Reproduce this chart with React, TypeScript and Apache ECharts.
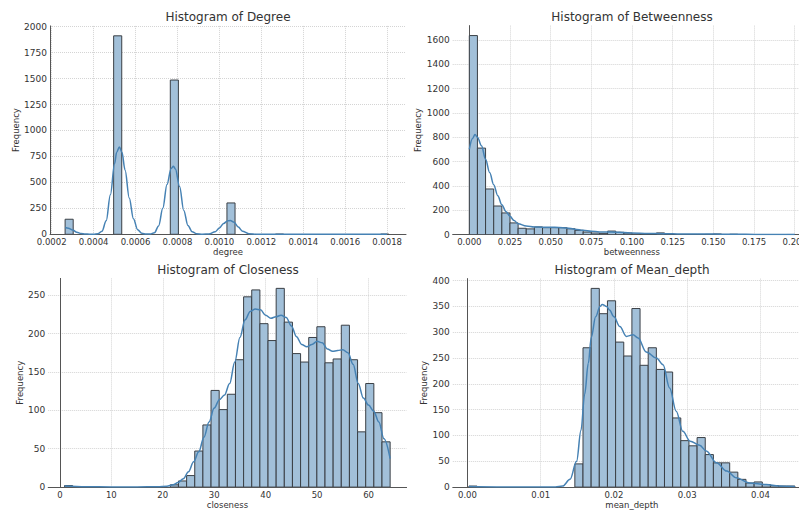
import React, { useEffect, useRef } from 'react';
import * as echarts from 'echarts';

const FONT = 'DejaVu Sans';

// ---------- Degree ----------
const degreeBinStart = 0.000264;
const degreeBinWidth = 0.0000386;
const degreeCounts = [
  145, 0, 0, 0, 0, 0, 1912, 0, 0, 0,
  0, 0, 0, 1486, 0, 0, 0, 0, 0, 0,
  302, 0, 0, 0, 0, 0, 1, 0, 0, 0,
  0, 0, 0, 0, 0, 0, 0, 0, 0, 1,
];
const degreeKdeX = [
  0.000264, 0.00028, 0.0003, 0.00032, 0.00034, 0.00036, 0.00038, 0.0004, 0.00042, 0.00044,
  0.00046, 0.00048, 0.0005, 0.00051, 0.000523, 0.000535, 0.00055, 0.00057, 0.00059, 0.00061,
  0.00063, 0.00065, 0.00067, 0.00069, 0.00071, 0.00073, 0.00075, 0.00077, 0.000781, 0.00079,
  0.00081, 0.00083, 0.00085, 0.00087, 0.00089, 0.00092, 0.00095, 0.00098, 0.001, 0.00102,
  0.00104, 0.001052, 0.00107, 0.00109, 0.00111, 0.00114, 0.00118, 0.0013, 0.0015, 0.0018,
];
const degreeKdeY = [
  65, 58, 42, 20, 8, 3, 1, 1, 5, 30,
  130, 380, 680, 790, 842, 790, 620, 350, 150, 45,
  10, 2, 3, 15, 80, 250, 480, 635, 655, 630,
  460, 230, 85, 25, 6, 1, 3, 25, 60, 105,
  130, 133, 115, 70, 30, 6, 1, 1, 0.5, 0.3,
];
const degreeXTicks = [0.0002, 0.0004, 0.0006, 0.0008, 0.001, 0.0012, 0.0014, 0.0016, 0.0018];
const degreeYTicks = [0, 250, 500, 750, 1000, 1250, 1500, 1750, 2000];

// ---------- Betweenness ----------
const betweennessBinStart = 0;
const betweennessBinWidth = 0.005;
const betweennessCounts = [
  1636, 711, 375, 235, 178, 96, 52, 47, 63, 57,
  57, 57, 48, 35, 21, 13, 10, 29, 19, 13,
  5, 3, 2, 14, 2, 1, 1, 1, 1, 2,
  5, 1, 3, 1, 1, 0, 0, 0, 0, 1,
];
const betweennessKdeX = [
  0, 0.002, 0.0035, 0.005, 0.0075, 0.01, 0.0125, 0.015, 0.0175, 0.02,
  0.0225, 0.025, 0.0275, 0.03, 0.035, 0.04, 0.045, 0.05, 0.055, 0.06,
  0.065, 0.07, 0.075, 0.08, 0.085, 0.09, 0.095, 0.1, 0.11, 0.12,
  0.13, 0.14, 0.15, 0.16, 0.17, 0.18, 0.2,
];
const betweennessKdeY = [
  700, 790, 823, 800, 730, 620, 510, 410, 320, 245,
  190, 150, 115, 90, 70, 62, 61, 61, 59, 54,
  45, 35, 27, 22, 21, 20, 17, 13, 9, 8,
  5, 4, 4, 3, 2, 1, 1,
];
const betweennessXTicks = [0, 0.025, 0.05, 0.075, 0.1, 0.125, 0.15, 0.175, 0.2];
const betweennessYTicks = [0, 200, 400, 600, 800, 1000, 1200, 1400, 1600];

// ---------- Closeness ----------
const closenessBinStart = 0.9;
const closenessBinWidth = 1.5825;
const closenessCounts = [
  2, 0, 0, 0, 0, 0, 0, 0, 0, 0,
  0, 0, 0, 3, 8, 15, 47, 81, 126, 101,
  121, 166, 248, 257, 213, 191, 259, 215, 174, 163,
  195, 209, 162, 167, 211, 166, 72, 135, 97, 59,
];
const closenessKdeX = [
  0.9, 5, 10, 15, 19, 20.8, 22, 23, 24, 25,
  26, 27, 28, 29, 30, 31, 32, 33, 34, 35,
  36, 37, 38, 39, 40, 41, 42, 43, 44, 45,
  46, 47, 48, 49, 50, 51, 52, 53, 54, 55,
  56, 57, 58, 59, 60, 61, 62, 63, 64.2,
];
const closenessKdeY = [
  1.5, 0.5, 0.2, 0.2, 0.5, 1, 3, 6, 11, 20,
  33, 46, 65, 85, 103, 114, 120, 135, 163, 195,
  218, 229, 232, 231, 224, 220, 222, 224, 221, 210,
  196, 186, 183, 186, 190, 188, 180, 177, 178, 179,
  175, 160, 135, 116, 107, 99, 85, 63, 37,
];
const closenessXTicks = [0, 10, 20, 30, 40, 50, 60];
const closenessYTicks = [0, 50, 100, 150, 200, 250];

// ---------- Mean_depth ----------
const meanDepthBinStart = 0.0002;
const meanDepthBinWidth = 0.0011125;
const meanDepthCounts = [
  2, 0, 0, 0, 0, 0, 0, 0, 0, 0,
  0, 0, 0, 45, 270, 385, 336, 361, 281, 254,
  346, 236, 270, 228, 223, 134, 90, 80, 96, 63,
  47, 47, 29, 15, 8, 10, 5, 3, 2, 2,
];
const meanDepthKdeX = [
  0.0002, 0.004, 0.008, 0.012, 0.013, 0.014, 0.0149, 0.0155, 0.016, 0.0165,
  0.0169, 0.0175, 0.0181, 0.0184, 0.019, 0.0194, 0.02, 0.0208, 0.0217, 0.0226,
  0.0233, 0.0244, 0.0258, 0.0267, 0.0276, 0.0285, 0.0294, 0.0304, 0.0317, 0.0326,
  0.034, 0.0354, 0.0367, 0.0385, 0.0408, 0.0425, 0.0447,
];
const meanDepthKdeY = [
  1, 0.3, 0.1, 0.3, 2, 15, 50, 110, 180, 240,
  290, 330, 350, 354, 350, 343, 330, 311, 292, 295,
  289, 262, 250, 237, 192, 147, 108, 89, 81, 70,
  47, 31, 18, 8, 5, 2, 1,
];
const meanDepthXTicks = [0, 0.01, 0.02, 0.03, 0.04];
const meanDepthYTicks = [0, 50, 100, 150, 200, 250, 300, 350, 400];

// ---------- helpers ----------
function binsOf(start: number, width: number, counts: number[]) {
  const out: number[][] = [];
  counts.forEach((c, i) => {
    if (c > 0) out.push([start + i * width, start + (i + 1) * width, c]);
  });
  return out;
}
function pairs(xs: number[], ys: number[]) {
  return xs.map((x, i) => [x, ys[i]]);
}

const panels = [
  {
    title: 'Histogram of Degree', xName: 'degree',
    grid: { left: 50, top: 25.9, width: 356, height: 208.4 }, titleX: 228, titleY: 10.5,
    xMin: 0.000192, xMax: 0.00189, yMax: 2007.6, yNameGap: 30,
    xTicks: degreeXTicks, yTicks: degreeYTicks, dec: 4,
    bins: binsOf(degreeBinStart, degreeBinWidth, degreeCounts),
    kde: pairs(degreeKdeX, degreeKdeY),
  },
  {
    title: 'Histogram of Betweenness', xName: 'betweenness',
    grid: { left: 452.7, top: 25.6, width: 358.3, height: 209.0 }, titleX: 632, titleY: 10.5,
    xMin: -0.0102, xMax: 0.21, yMax: 1718, yNameGap: 27.7,
    xTicks: betweennessXTicks, yTicks: betweennessYTicks, dec: 3,
    bins: binsOf(betweennessBinStart, betweennessBinWidth, betweennessCounts),
    kde: pairs(betweennessKdeX, betweennessKdeY),
  },
  {
    title: 'Histogram of Closeness', xName: 'closeness',
    grid: { left: 48.2, top: 278.4, width: 358.4, height: 209.3 }, titleX: 228, titleY: 263.5,
    xMin: -2.27, xMax: 67.4, yMax: 272, yNameGap: 21.6,
    xTicks: closenessXTicks, yTicks: closenessYTicks, dec: 0,
    bins: binsOf(closenessBinStart, closenessBinWidth, closenessCounts),
    kde: pairs(closenessKdeX, closenessKdeY),
  },
  {
    title: 'Histogram of Mean_depth', xName: 'mean_depth',
    grid: { left: 452.8, top: 278.6, width: 358.2, height: 209.1 }, titleX: 632, titleY: 263.5,
    xMin: -0.002, xMax: 0.0469, yMax: 404, yNameGap: 21.8,
    xTicks: meanDepthXTicks, yTicks: meanDepthYTicks, dec: 2,
    bins: binsOf(meanDepthBinStart, meanDepthBinWidth, meanDepthCounts),
    kde: pairs(meanDepthKdeX, meanDepthKdeY),
  },
];

const TEXT = '#333333';
const SPINE = '#555555';
const GRIDC = '#d4d4d4';
const BAR_FILL = '#a2c0d9';
const BAR_EDGE = '#3a3f45';
const KDE = '#4682b4';

export default function App() {
  const ref = useRef<HTMLDivElement>(null);
  useEffect(() => {
    if (!ref.current) return;
    const chart = echarts.init(ref.current, undefined, { renderer: 'svg' });

    const renderBars = (params: any, api: any) => {
      const a = api.coord([api.value(0), 0]);
      const b = api.coord([api.value(1), api.value(2)]);
      return {
        type: 'rect',
        shape: { x: a[0], y: b[1], width: b[0] - a[0], height: a[1] - b[1] },
        style: { fill: BAR_FILL, stroke: BAR_EDGE, lineWidth: 1 },
      };
    };

    const option: any = {
      animation: false,
      backgroundColor: '#ffffff',
      title: panels.map((p) => ({
        text: p.title,
        left: p.titleX,
        top: p.titleY,
        textAlign: 'center',
        textVerticalAlign: 'top',
        padding: 0,
        textStyle: { fontFamily: FONT, fontSize: 12, fontWeight: 'normal', color: TEXT },
      })),
      grid: panels.map((p) => ({ ...p.grid, containLabel: false })),
      xAxis: panels.map((p, i) => ({
        type: 'value',
        gridIndex: i,
        min: p.xMin,
        max: p.xMax,
        name: p.xName,
        nameLocation: 'middle',
        nameGap: 12.5,
        nameTextStyle: { fontFamily: FONT, fontSize: 8.5, color: TEXT },
        axisLine: { show: true, onZero: false, lineStyle: { color: SPINE, width: 1 } },
        axisTick: { show: false, customValues: p.xTicks },
        axisLabel: {
          customValues: p.xTicks,
          margin: 3,
          fontFamily: FONT,
          fontSize: 8.5,
          color: TEXT,
          formatter: (v: number) => v.toFixed(p.dec),
        },
        splitLine: { show: true, lineStyle: { color: GRIDC, type: 'dotted', width: 1 } },
      })),
      yAxis: panels.map((p, i) => ({
        type: 'value',
        gridIndex: i,
        min: 0,
        max: p.yMax,
        name: 'Frequency',
        nameLocation: 'middle',
        nameRotate: 90,
        nameGap: p.yNameGap,
        nameTextStyle: { fontFamily: FONT, fontSize: 8.5, color: TEXT },
        axisLine: { show: true, lineStyle: { color: SPINE, width: 1 } },
        axisTick: { show: false, customValues: p.yTicks },
        axisLabel: {
          customValues: p.yTicks,
          margin: 3,
          fontFamily: FONT,
          fontSize: 9,
          color: TEXT,
          formatter: (v: number) => String(Math.round(v)),
        },
        splitLine: { show: true, lineStyle: { color: GRIDC, type: 'dotted', width: 1 } },
      })),
      series: [
        ...panels.map((p, i) => ({
          type: 'custom',
          xAxisIndex: i,
          yAxisIndex: i,
          renderItem: renderBars,
          encode: { x: [0, 1], y: 2 },
          data: p.bins,
          clip: true,
          z: 2,
        })),
        ...panels.map((p, i) => ({
          type: 'line',
          xAxisIndex: i,
          yAxisIndex: i,
          data: p.kde,
          showSymbol: false,
          symbol: 'none',
          smooth: 0.35,
          smoothMonotone: 'x',
          lineStyle: { color: KDE, width: 1.5 },
          z: 3,
        })),
      ],
    };
    chart.setOption(option);
    return () => chart.dispose();
  }, []);

  // The chart canvas is wider than the 799px window: the right-hand panels run
  // past the edge and are cut off there, as in the reference.
  return (
    <div
      style={{ position: 'fixed', left: 0, top: 0, width: 799, height: 510, overflow: 'hidden', background: '#fff' }}
    >
      <div ref={ref} style={{ width: 840, height: 510 }} />
    </div>
  );
}
